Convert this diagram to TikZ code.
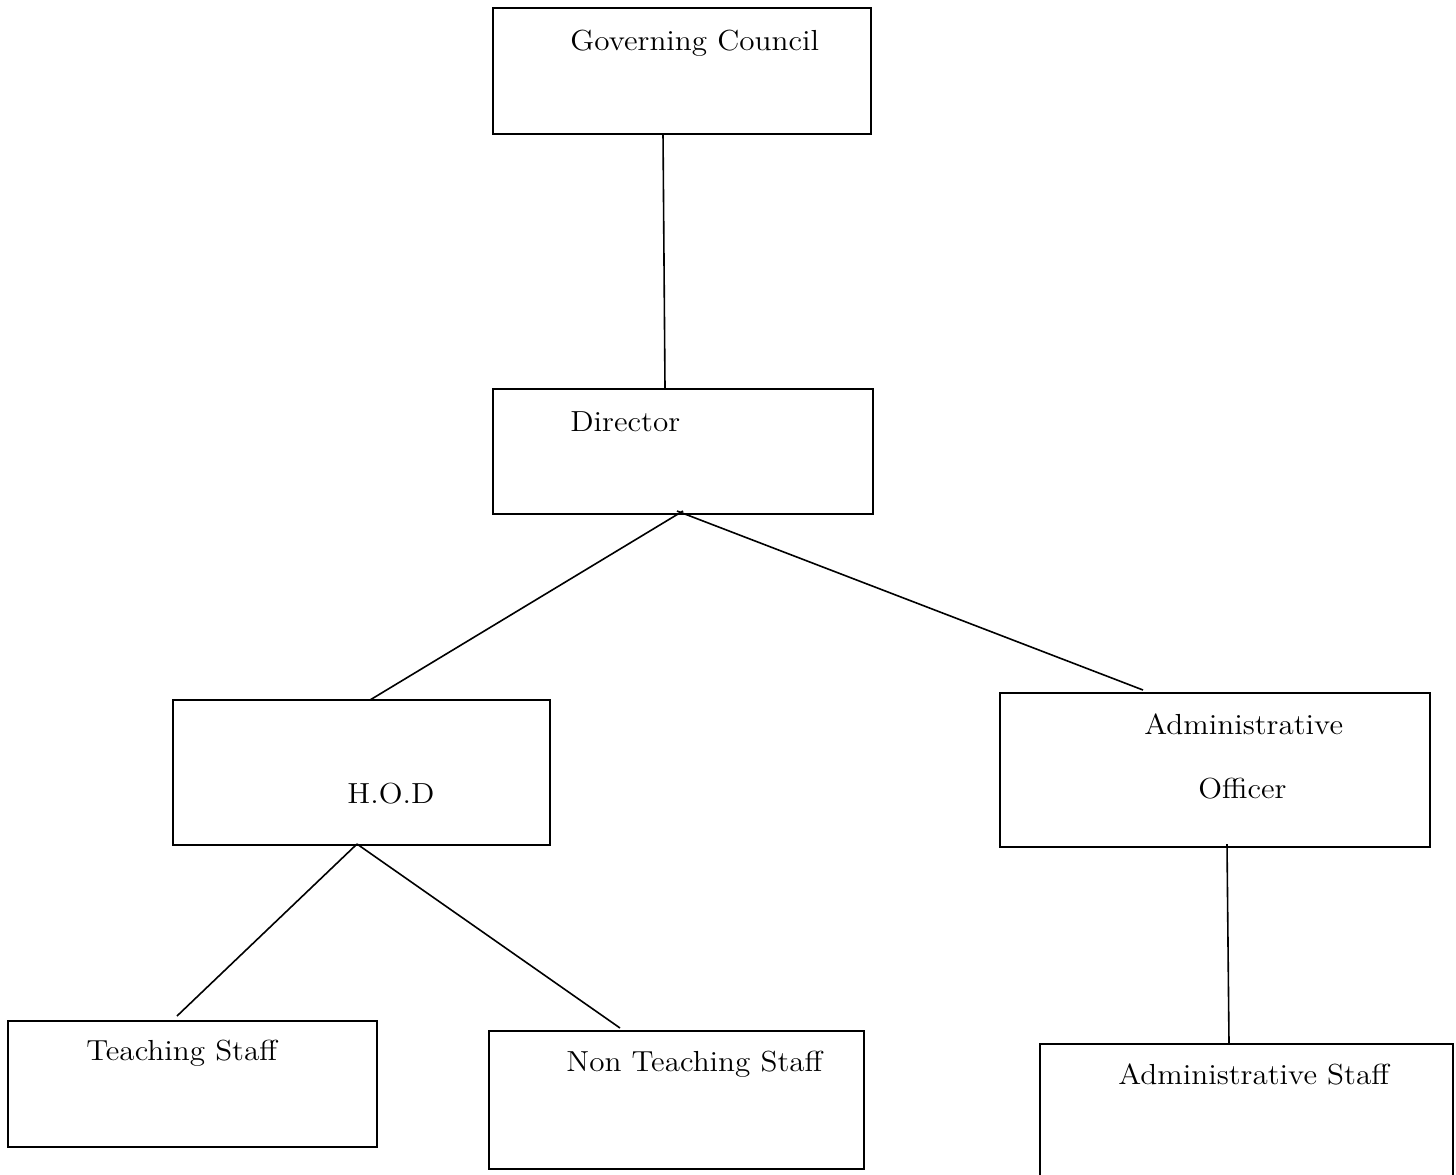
\documentclass[tikz,border=0pt]{standalone}
\newcommand{\wtxt}[1]{\scalebox{1.075}[1]{#1}}
\begin{document}
\begin{tikzpicture}[x=0.5pt,y=-0.5pt,
  box/.style={draw,line width=0.8pt,inner sep=0pt,anchor=north west},
  lbl/.style={anchor=base west,inner sep=0pt,font=\fontsize{14.5}{17}\selectfont},
  link/.style={line width=0.8pt}]
\useasboundingbox (0,0) rectangle (1456,1174);
\begin{scope}
\clip (0,0) rectangle (1456,1174);
% boxes
\node[box,minimum width=189pt,minimum height=63pt] (gc) at (492,7) {};
\node[box,minimum width=190pt,minimum height=62.5pt] (dir) at (492,388) {};
\node[box,minimum width=188.5pt,minimum height=72.5pt] (hod) at (172,699) {};
\node[box,minimum width=215pt,minimum height=77pt] (ao) at (999,692) {};
\node[box,minimum width=184.5pt,minimum height=63pt] (ts) at (7,1020) {};
\node[box,minimum width=187.5pt,minimum height=69pt] (nts) at (488,1030) {};
\node[box,minimum width=206.5pt,minimum height=80pt] (as) at (1039,1043) {};
\end{scope}
% labels
\node[lbl] (gct) at (570,50) {\wtxt{Governing Council}};
\node[lbl] (dirt) at (570,431) {\wtxt{Director}};
\node[lbl] (hodt) at (347,803) {\wtxt{H.O.D}};
\node[lbl] (aot1) at (1144,734) {\wtxt{Administrative}};
\node[lbl] (aot2) at (1198,798) {\wtxt{Officer}};
\node[lbl] (tst) at (86,1060) {\wtxt{Teaching Staff}};
\node[lbl] (ntst) at (566,1071) {\wtxt{Non Teaching Staff}};
\node[lbl] (ast) at (1118,1084) {\wtxt{Administrative Staff}};
% connector end points
\coordinate (gcb) at (663,133);
\coordinate (dirtop) at (665,388);
\coordinate (dirb1) at (683,511);
\coordinate (dirb2) at (677,511);
\coordinate (hodtop) at (370,700);
\coordinate (aotop) at (1143,690);
\coordinate (hodb) at (357,844);
\coordinate (tstop) at (177,1016);
\coordinate (ntstop) at (620,1028);
\coordinate (aob) at (1227,844);
\coordinate (astop) at (1229,1043);
% connectors
\draw[link] (gcb) -- (dirtop);
\draw[link] (dirb1) -- (hodtop);
\draw[link] (dirb2) -- (aotop);
\draw[link] (hodb) -- (tstop);
\draw[link] (hodb) -- (ntstop);
\draw[link] (aob) -- (astop);
\end{tikzpicture}
\end{document}
